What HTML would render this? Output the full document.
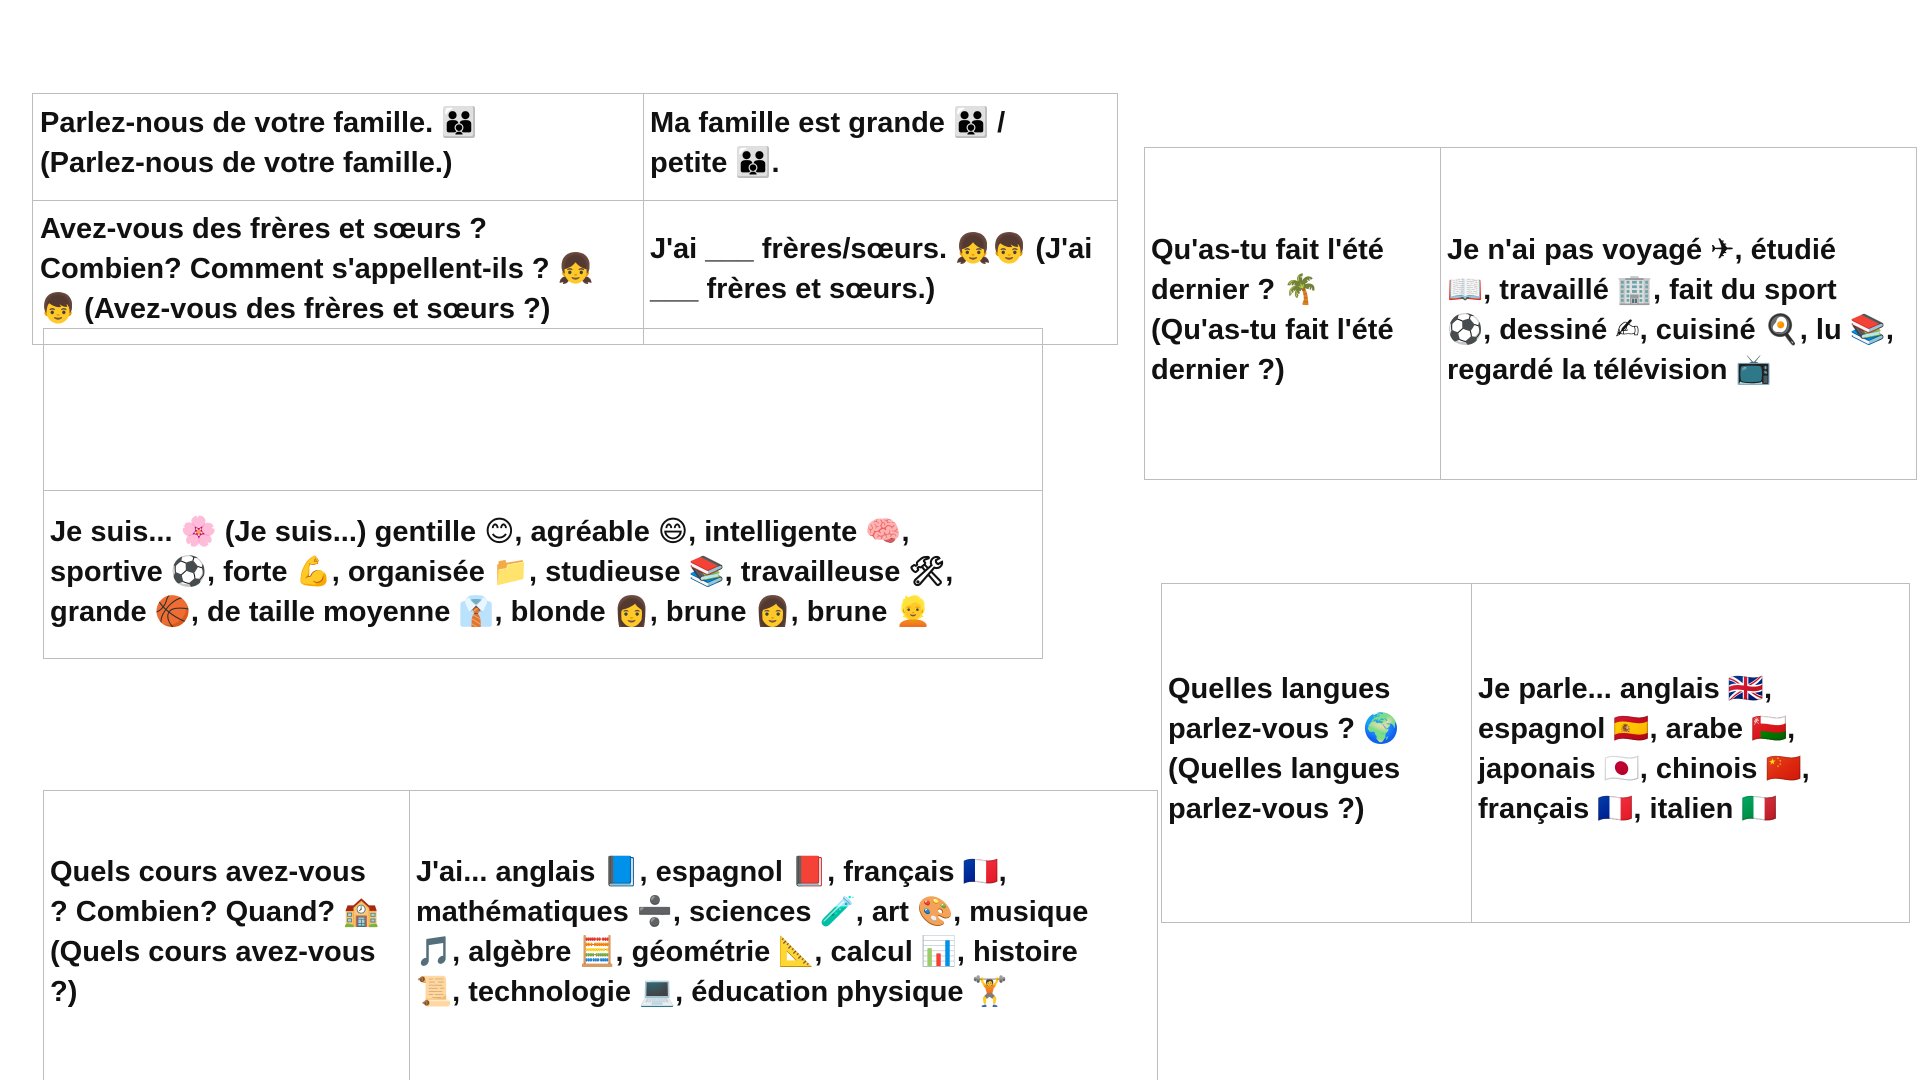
<!DOCTYPE html>
<html><head><meta charset="utf-8"><style>
html,body{margin:0;width:1920px;height:1080px;overflow:hidden}
body{background:#fff;position:relative;font-family:"Liberation Sans","DejaVu Sans",sans-serif;font-weight:bold;color:#111}
.b{position:absolute;border:1.5px solid #bdbdbd;box-sizing:border-box}
.h{position:absolute;height:0;border-top:1.5px solid #bdbdbd}
.v{position:absolute;width:0;border-left:1.5px solid #bdbdbd}
.t{position:absolute;font-size:29px;line-height:40px;white-space:nowrap;letter-spacing:0px}
</style></head><body>
<div class="b" style="left:32px;top:93px;width:1086px;height:252px"></div>
<div class="h" style="left:32px;top:200px;width:1086px"></div>
<div class="v" style="left:643px;top:93px;height:252px"></div>
<div class="t" style="left:40px;top:103px">Parlez-nous de votre famille. 👪<br>(Parlez-nous de votre famille.)</div>
<div class="t" style="left:650px;top:103px">Ma famille est grande 👪 /<br>petite 👪.</div>
<div class="t" style="left:40px;top:209px">Avez-vous des frères et sœurs ?<br>Combien? Comment s'appellent-ils ? 👧<br>👦 (Avez-vous des frères et sœurs ?)</div>
<div class="t" style="left:650px;top:229px">J'ai ___ frères/sœurs. 👧👦 (J'ai<br>___ frères et sœurs.)</div>

<div class="b" style="left:43px;top:328px;width:1000px;height:331px"></div>
<div class="h" style="left:43px;top:490px;width:1000px"></div>
<div class="t" style="left:50px;top:512px">Je suis... 🌸 (Je suis...) gentille 😊, agréable 😄, intelligente 🧠,<br>sportive ⚽, forte 💪, organisée 📁, studieuse 📚, travailleuse 🛠,<br>grande 🏀, de taille moyenne 👔, blonde 👩, brune 👩, brune 👱</div>

<div class="b" style="left:1144px;top:147px;width:773px;height:333px"></div>
<div class="v" style="left:1440px;top:147px;height:333px"></div>
<div class="t" style="left:1151px;top:230px">Qu'as-tu fait l'été<br>dernier ? 🌴<br>(Qu'as-tu fait l'été<br>dernier ?)</div>
<div class="t" style="left:1447px;top:230px">Je n'ai pas voyagé ✈, étudié<br>📖, travaillé 🏢, fait du sport<br>⚽, dessiné ✍, cuisiné 🍳, lu 📚,<br>regardé la télévision 📺</div>

<div class="b" style="left:1161px;top:583px;width:749px;height:340px"></div>
<div class="v" style="left:1471px;top:583px;height:340px"></div>
<div class="t" style="left:1168px;top:669px">Quelles langues<br>parlez-vous ? 🌍<br>(Quelles langues<br>parlez-vous ?)</div>
<div class="t" style="left:1478px;top:669px">Je parle... anglais 🇬🇧,<br>espagnol 🇪🇸, arabe 🇴🇲,<br>japonais 🇯🇵, chinois 🇨🇳,<br>français 🇫🇷, italien 🇮🇹</div>

<div class="b" style="left:43px;top:790px;width:1115px;height:290px;border-bottom:none"></div>
<div class="v" style="left:409px;top:790px;height:290px"></div>
<div class="t" style="left:50px;top:852px">Quels cours avez-vous<br>? Combien? Quand? 🏫<br>(Quels cours avez-vous<br>?)</div>
<div class="t" style="left:416px;top:852px">J'ai... anglais 📘, espagnol 📕, français 🇫🇷,<br>mathématiques ➗, sciences 🧪, art 🎨, musique<br>🎵, algèbre 🧮, géométrie 📐, calcul 📊, histoire<br>📜, technologie 💻, éducation physique 🏋</div>
</body></html>
